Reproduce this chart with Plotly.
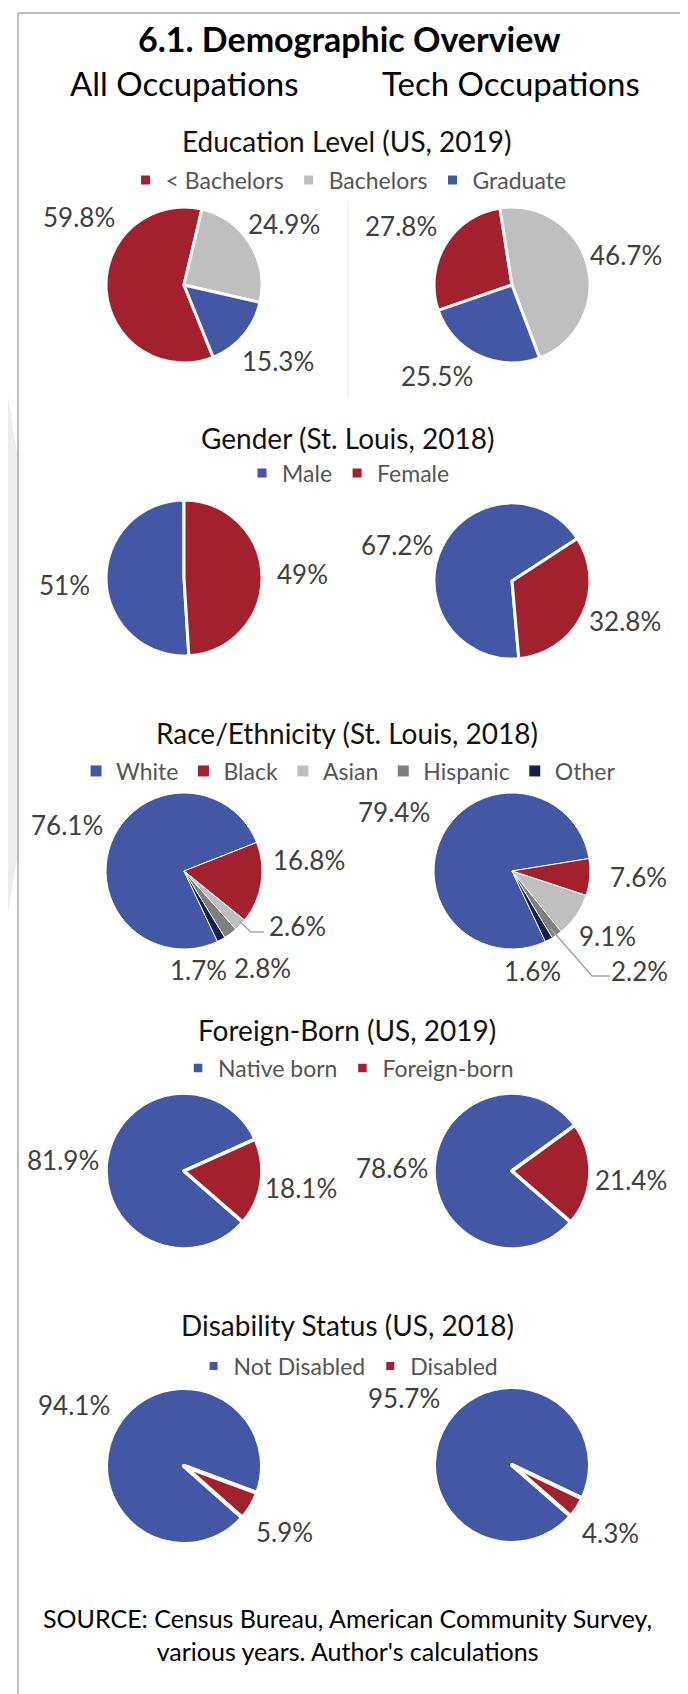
import plotly.graph_objects as go

W, H = 688, 1694

# ---------------- data ----------------
edu_labels = ["< Bachelors", "Bachelors", "Graduate"]
edu_all = [59.8, 24.9, 15.3]
edu_tech = [27.8, 46.7, 25.5]

gender_labels = ["Male", "Female"]
gender_all = [51, 49]
gender_tech = [67.2, 32.8]

race_labels = ["White", "Black", "Asian", "Hispanic", "Other"]
race_all = [76.1, 16.8, 2.6, 2.8, 1.7]
race_tech = [79.4, 7.6, 9.1, 2.2, 1.6]

fb_labels = ["Native born", "Foreign-born"]
fb_all = [81.9, 18.1]
fb_tech = [78.6, 21.4]

dis_labels = ["Not Disabled", "Disabled"]
dis_all = [94.1, 5.9]
dis_tech = [95.7, 4.3]

section_titles = ["Education Level (US, 2019)", "Gender (St. Louis, 2018)",
                  "Race/Ethnicity (St. Louis, 2018)", "Foreign-Born (US, 2019)",
                  "Disability Status (US, 2018)"]

# ---------------- styling / layout (pixel positions) ----------------
RED, LGRAY, BLUE = "#A3202F", "#BFBFBF", "#4457A5"
MGRAY, NAVY = "#7F7F7F", "#15204A"

sections = [
    dict(labels=edu_labels, all=edu_all, tech=edu_tech, colors=[RED, LGRAY, BLUE],
         rot=(158, 251), lw=3, title_y=133, legend_y=172, cy=(277, 277),
         pos_all=[(71, 209), (276, 216), (270, 353)],
         pos_tech=[(393, 218), (618, 247), (429, 368)]),
    dict(labels=gender_labels, all=gender_all, tech=gender_tech, colors=[BLUE, RED],
         rot=(176.4, 175), lw=3, title_y=430, legend_y=465, cy=(570, 573),
         pos_all=[(57, 577), (294, 566)],
         pos_tech=[(389, 537), (617, 613)]),
    dict(labels=race_labels, all=race_all, tech=race_tech,
         colors=[BLUE, RED, LGRAY, MGRAY, NAVY],
         rot=(154.6, 154.7), lw=1, title_y=725, legend_y=763, cy=(863, 863),
         pos_all=[(59, 817), (301, 852), (289, 918), (254, 960), (190, 962)],
         pos_tech=[(386, 804), (630, 869), (599, 928), (631, 963), (524, 963)]),
    dict(labels=fb_labels, all=fb_all, tech=fb_tech, colors=[BLUE, RED],
         rot=(131, 131), lw=3.5, title_y=1022, legend_y=1060, cy=(1163, 1163),
         pos_all=[(55, 1152), (293, 1180)],
         pos_tech=[(384, 1160), (623, 1172)]),
    dict(labels=dis_labels, all=dis_all, tech=dis_tech, colors=[BLUE, RED],
         rot=(131.5, 131), lw=4, title_y=1317, legend_y=1358, cy=(1458, 1457),
         pos_all=[(66, 1397), (276, 1524)],
         pos_tech=[(396, 1390), (602, 1525)]),
]
CX = (176, 504)
R = 78
FONT = "Lato"


def px(x):
    return x / W


def py(y):
    return 1 - y / H


fig = go.Figure()
annotations = []
legends = {}

for i, s in enumerate(sections):
    leg = "legend" if i == 0 else f"legend{i + 1}"
    for j, vals in enumerate([s["all"], s["tech"]]):
        cx, cy = CX[j], s["cy"][j]
        fig.add_trace(go.Pie(
            labels=s["labels"], values=vals, sort=False, direction="clockwise",
            rotation=s["rot"][j],
            marker=dict(colors=s["colors"], line=dict(color="white", width=s["lw"])),
            textinfo="none", hoverinfo="label+value",
            domain=dict(x=[px(cx - R), px(cx + R)], y=[py(cy + R), py(cy - R)]),
            showlegend=(j == 0), legend=leg,
        ))
        pos = s["pos_all"] if j == 0 else s["pos_tech"]
        for v, (lx, ly) in zip(vals, pos):
            annotations.append(dict(text=f"{v:g}%", x=px(lx), y=py(ly), xref="paper", yref="paper",
                                    showarrow=False, xanchor="center", yanchor="middle",
                                    font=dict(family=FONT, size=26, color="#404040")))
    annotations.append(dict(text=section_titles[i], x=px(339), y=py(s["title_y"]),
                            xref="paper", yref="paper", showarrow=False,
                            xanchor="center", yanchor="middle",
                            font=dict(family=FONT, size=28, color="#111111")))
    legends[leg] = dict(orientation="h", x=0.495, xanchor="center", y=py(s["legend_y"]),
                        yanchor="middle", bgcolor="rgba(0,0,0,0)",
                        font=dict(family=FONT, size=23, color="#555555"),
                        itemclick=False, itemdoubleclick=False)

# header texts
annotations.append(dict(text="<b>6.1. Demographic Overview</b>", x=px(341), y=py(30),
                        xref="paper", yref="paper", showarrow=False,
                        xanchor="center", yanchor="middle",
                        font=dict(family=FONT, size=34, color="#000000")))
annotations.append(dict(text="All Occupations", x=px(176), y=py(75), xref="paper", yref="paper",
                        showarrow=False, xanchor="center", yanchor="middle",
                        font=dict(family=FONT, size=33, color="#000000")))
annotations.append(dict(text="Tech Occupations", x=px(503), y=py(75), xref="paper", yref="paper",
                        showarrow=False, xanchor="center", yanchor="middle",
                        font=dict(family=FONT, size=33, color="#000000")))
annotations.append(dict(text="SOURCE: Census Bureau, American Community Survey,<br>various years. Author's calculations",
                        x=px(339), y=py(1626), xref="paper", yref="paper", showarrow=False,
                        xanchor="center", yanchor="middle", align="center",
                        font=dict(family=FONT, size=25, color="#000000")))


def seg_path(points):
    return "M " + " L ".join(f"{px(x):.5f},{py(y):.5f}" for x, y in points)


shapes = [
    # frame
    dict(type="line", xref="paper", yref="paper", x0=px(10), x1=1, y0=py(5), y1=py(5),
         line=dict(color="#BDBDBD", width=2)),
    dict(type="line", xref="paper", yref="paper", x0=px(10), x1=px(10), y0=py(5), y1=0,
         line=dict(color="#BDBDBD", width=2)),
    # faint background shape at left
    dict(type="path", xref="paper", yref="paper",
         path=seg_path([(0, 388), (9, 445), (9, 850), (0, 905)]) + " Z",
         fillcolor="#EDEDED", line=dict(width=0)),
    # divider between education pies
    dict(type="line", xref="paper", yref="paper", x0=px(340), x1=px(340), y0=py(193), y1=py(390),
         line=dict(color="#E3E3E3", width=1)),
    # leader lines
    dict(type="path", xref="paper", yref="paper",
         path=seg_path([(231, 913), (243, 924), (256, 924)]),
         line=dict(color="#A6A6A6", width=1.5)),
    dict(type="path", xref="paper", yref="paper",
         path=seg_path([(543, 921), (584, 968), (602, 968)]),
         line=dict(color="#A6A6A6", width=1.5)),
]

fig.update_layout(
    width=W, height=H, margin=dict(l=0, r=0, t=0, b=0),
    paper_bgcolor="white", plot_bgcolor="white",
    annotations=annotations, shapes=shapes,
    font=dict(family=FONT),
    **legends,
)

fig.write_html("out.html")
